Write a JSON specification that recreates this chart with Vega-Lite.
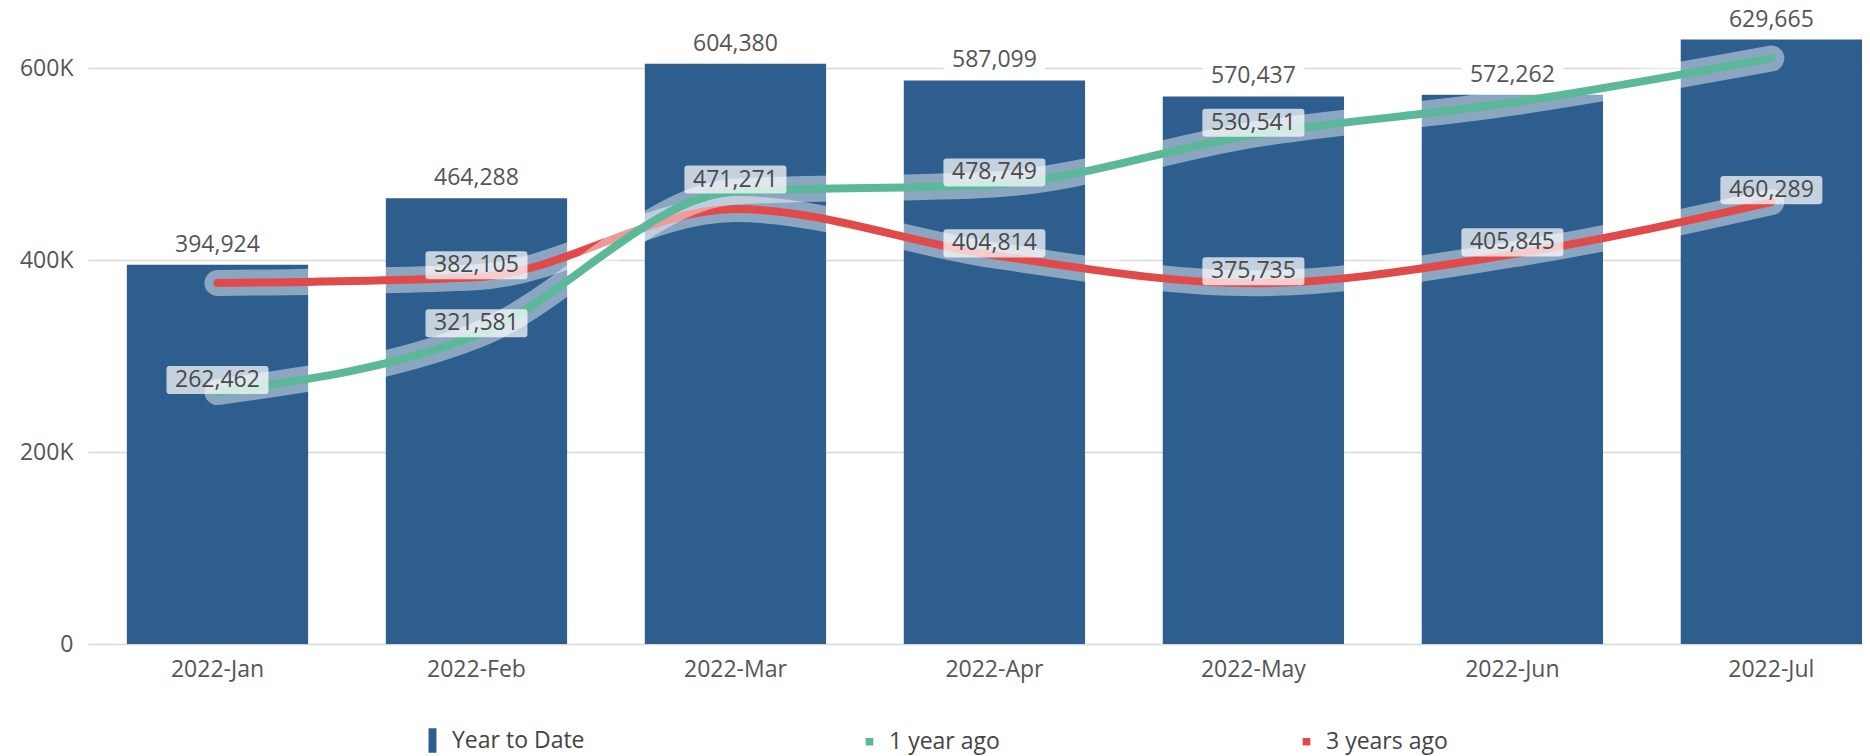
{
  "$schema": "https://vega.github.io/schema/vega-lite/v6.json",
  "autosize": {"type": "none"},
  "width": 1774,
  "height": 624,
  "padding": {"left": 88, "top": 20, "right": 8, "bottom": 112},
  "background": "white",
  "config": {
    "font": "Open Sans",
    "view": {"stroke": null},
    "axis": {"labelFont": "Open Sans", "labelFontSize": 23, "labelColor": "#555555", "ticks": false, "domain": false, "title": null},
    "legend": {"labelFont": "Open Sans", "labelFontSize": 23, "labelColor": "#444444"}
  },
  "data": {
    "values": [
      {"month": "2022-Jan", "series": "Year to Date", "value": 394924, "labeled": true},
      {"month": "2022-Feb", "series": "Year to Date", "value": 464288, "labeled": true},
      {"month": "2022-Mar", "series": "Year to Date", "value": 604380, "labeled": true},
      {"month": "2022-Apr", "series": "Year to Date", "value": 587099, "labeled": true},
      {"month": "2022-May", "series": "Year to Date", "value": 570437, "labeled": true},
      {"month": "2022-Jun", "series": "Year to Date", "value": 572262, "labeled": true},
      {"month": "2022-Jul", "series": "Year to Date", "value": 629665, "labeled": true},
      {"month": "2022-Jan", "series": "1 year ago", "value": 262462, "labeled": true},
      {"month": "2022-Feb", "series": "1 year ago", "value": 321581, "labeled": true},
      {"month": "2022-Mar", "series": "1 year ago", "value": 471271, "labeled": true},
      {"month": "2022-Apr", "series": "1 year ago", "value": 478749, "labeled": true},
      {"month": "2022-May", "series": "1 year ago", "value": 530541, "labeled": true},
      {"month": "2022-Jun", "series": "1 year ago", "value": 564000, "labeled": false},
      {"month": "2022-Jul", "series": "1 year ago", "value": 610000, "labeled": false},
      {"month": "2022-Jan", "series": "3 years ago", "value": 376000, "labeled": false},
      {"month": "2022-Feb", "series": "3 years ago", "value": 382105, "labeled": true},
      {"month": "2022-Mar", "series": "3 years ago", "value": 453000, "labeled": false},
      {"month": "2022-Apr", "series": "3 years ago", "value": 404814, "labeled": true},
      {"month": "2022-May", "series": "3 years ago", "value": 375735, "labeled": true},
      {"month": "2022-Jun", "series": "3 years ago", "value": 405845, "labeled": true},
      {"month": "2022-Jul", "series": "3 years ago", "value": 460289, "labeled": true}
    ]
  },
  "encoding": {
    "x": {
      "field": "month", "type": "nominal", "sort": null,
      "scale": {"paddingInner": 0.3, "paddingOuter": 0.075, "align": 1},
      "axis": {"labelAngle": 0, "labelPadding": 14, "grid": false}
    },
    "y": {
      "field": "value", "type": "quantitative",
      "scale": {"domain": [0, 650000], "nice": false, "zero": true},
      "axis": {
        "values": [0, 200000, 400000, 600000],
        "labelExpr": "datum.value == 0 ? '0' : format(datum.value / 1000, 'd') + 'K'",
        "labelPadding": 15, "grid": true, "gridColor": "#d8d8d8", "gridWidth": 1.5
      }
    }
  },
  "layer": [
    {
      "transform": [{"filter": "datum.series == 'Year to Date'"}],
      "mark": {"type": "bar"},
      "encoding": {
        "color": {
          "field": "series", "type": "nominal",
          "scale": {"domain": ["Year to Date", "1 year ago", "3 years ago"], "range": ["#2d5e8e", "#5bb898", "#e14a4a"]},
          "legend": {
            "orient": "none", "direction": "horizontal", "columns": 3, "gridAlign": "all",
            "legendX": 332, "legendY": 708, "padding": 0, "title": null,
            "symbolSize": 529, "labelOffset": 7, "columnPadding": 272,
            "symbolType": "square",
            "encode": {
              "symbols": {
                "update": {
                  "shape": {"signal": "datum.value == 'Year to Date' ? 'M-0.28,-1H0.28V1H-0.28Z' : 'M-0.27,-0.27H0.27V0.27H-0.27Z'"},
                  "fill": {"scale": "color", "field": "value"},
                  "stroke": {"value": "transparent"},
                  "opacity": {"value": 1}
                }
              }
            }
          }
        }
      }
    },
    {
      "transform": [{"filter": "datum.series == 'Year to Date'"}],
      "mark": {"type": "point", "filled": true, "fill": "white", "opacity": 0.9, "yOffset": -20, "size": 10404,
        "shape": "M-0.94,-0.275H0.94Q1,-0.275 1,-0.215V0.215Q1,0.275 0.94,0.275H-0.94Q-1,0.275 -1,0.215V-0.215Q-1,-0.275 -0.94,-0.275Z"}
    },
    {
      "transform": [{"filter": "datum.series == 'Year to Date'"}],
      "mark": {"type": "text", "yOffset": -20, "baseline": "middle", "align": "center", "fontSize": 23, "color": "#555555"},
      "encoding": {"text": {"field": "value", "type": "quantitative", "format": ",d"}}
    },
    {
      "transform": [{"filter": "datum.series == '3 years ago'"}],
      "mark": {"type": "line", "interpolate": "monotone", "color": "white", "opacity": 0.45, "strokeWidth": 26, "strokeCap": "round", "strokeJoin": "round"}
    },
    {
      "transform": [{"filter": "datum.series == '3 years ago'"}],
      "mark": {"type": "line", "interpolate": "monotone", "strokeWidth": 8, "strokeCap": "round", "strokeJoin": "round"},
      "encoding": {"color": {"field": "series", "type": "nominal"}}
    },
    {
      "transform": [{"filter": "datum.series == '1 year ago'"}],
      "mark": {"type": "line", "interpolate": "monotone", "color": "white", "opacity": 0.45, "strokeWidth": 26, "strokeCap": "round", "strokeJoin": "round"}
    },
    {
      "transform": [{"filter": "datum.series == '1 year ago'"}],
      "mark": {"type": "line", "interpolate": "monotone", "strokeWidth": 8, "strokeCap": "round", "strokeJoin": "round"},
      "encoding": {"color": {"field": "series", "type": "nominal"}}
    },
    {
      "transform": [{"filter": "datum.series != 'Year to Date' && datum.labeled"}],
      "mark": {"type": "point", "filled": true, "fill": "white", "opacity": 0.72, "yOffset": -12, "size": 10404,
        "shape": "M-0.94,-0.275H0.94Q1,-0.275 1,-0.215V0.215Q1,0.275 0.94,0.275H-0.94Q-1,0.275 -1,0.215V-0.215Q-1,-0.275 -0.94,-0.275Z"}
    },
    {
      "transform": [{"filter": "datum.series != 'Year to Date' && datum.labeled"}],
      "mark": {"type": "text", "yOffset": -12, "baseline": "middle", "align": "center", "fontSize": 23, "color": "#4a4a4a"},
      "encoding": {"text": {"field": "value", "type": "quantitative", "format": ",d"}}
    }
  ]
}
